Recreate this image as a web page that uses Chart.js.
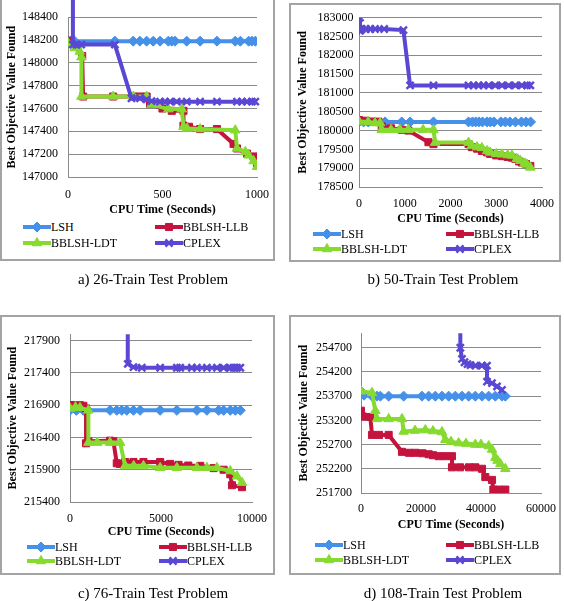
<!DOCTYPE html>
<html>
<head>
<meta charset="utf-8">
<title>Best objective value vs CPU time</title>
<script src="https://cdn.jsdelivr.net/npm/chart.js@4.4.1/dist/chart.umd.min.js"></script>
<style>
  body { margin: 0; width: 564px; height: 601px; position: relative; overflow: hidden; background: #fff;
         font-family: "Liberation Serif", "Times New Roman", serif; color: #000; }
  .box { position: absolute; border: 2px solid #a4a4a4; box-sizing: border-box; }
  .plot { position: absolute; }
  .legItem { position: absolute; height: 14px; display: flex; align-items: center; font-size: 12px; white-space: nowrap; }
  .caption { position: absolute; width: 260px; text-align: center; font-size: 15px; line-height: 18px; }
</style>
</head>
<body>
<script>
const seriesNames = ['LSH', 'BBLSH-LLB', 'BBLSH-LDT', 'CPLEX'];

// a) 26-train problem, [cpu seconds, best objective]
const a_lsh = [[0,148190],[15,148190],[35,148190],[248,148190],[345,148190],[380,148190],[416,148190],[451,148190],[487,148190],[531,148190],[549,148190],[566,148190],[628,148190],[699,148190],[788,148190],[885,148190],[912,148190],[956,148190],[973,148190],[991,148190]];
const a_llb = [[0,148195],[50,148150],[75,148060],[80,147705],[239,147705],[346,147705],[381,147705],[416,147705],[434,147640],[500,147600],[549,147580],[611,147580],[611,147450],[640,147440],[699,147420],[788,147420],[876,147290],[894,147250],[947,147205],[982,147180],[1000,147120]];
const a_ldt = [[0,148175],[35,148130],[62,148100],[71,148050],[71,147705],[239,147705],[346,147705],[416,147705],[442,147635],[531,147595],[602,147595],[611,147440],[630,147425],[699,147420],[885,147410],[894,147250],[938,147220],[956,147190],[982,147140],[1000,147090]];
const a_cplex = [[26,148600],[26,148160],[45,148160],[70,148160],[248,148160],[336,147690],[381,147690],[416,147680],[442,147665],[487,147660],[513,147660],[540,147660],[575,147660],[628,147660],[699,147660],[788,147660],[894,147660],[920,147660],[947,147660],[973,147660],[991,147660]];
const a_xTicks = [0, 500, 1000];
const a_yTicks = [147000, 147200, 147400, 147600, 147800, 148000, 148200, 148400];

// b) 50-train problem
const b_lsh = [[0,180230],[100,180230],[200,180230],[570,180230],[934,180230],[1117,180230],[1628,180230],[2394,180230],[2480,180230],[2550,180230],[2620,180230],[2700,180230],[2800,180230],[2870,180230],[2950,180230],[3100,180230],[3200,180230],[3300,180230],[3420,180230],[3550,180230],[3650,180230],[3750,180230]];
const b_llb = [[0,180280],[150,180260],[300,180240],[423,180237],[496,180110],[700,180060],[934,180020],[1080,180000],[1518,179690],[1628,179640],[2394,179640],[2467,179560],[2580,179520],[2686,179460],[2800,179420],[2868,179380],[3000,179340],[3124,179320],[3250,179300],[3343,179280],[3416,179250],[3500,179180],[3562,179150],[3650,179110],[3745,179060]];
const b_ldt = [[0,180240],[200,180230],[350,180200],[460,180200],[496,180020],[700,180020],[898,180020],[1080,180020],[1400,180020],[1628,180020],[1664,179680],[2394,179680],[2467,179600],[2580,179560],[2686,179540],[2800,179460],[2868,179420],[3000,179380],[3124,179370],[3250,179350],[3343,179340],[3450,179250],[3526,179200],[3620,179130],[3672,179100],[3745,179020]];
const b_cplex = [[22,183000],[22,182650],[60,182700],[150,182700],[250,182700],[350,182700],[550,182700],[971,182670],[1117,181200],[1628,181200],[2394,181200],[2504,181200],[2613,181200],[2723,181200],[2832,181200],[2978,181200],[3124,181200],[3270,181200],[3416,181200],[3562,181200],[3672,181200],[3745,181200]];
const b_xTicks = [0, 1000, 2000, 3000, 4000];
const b_yTicks = [178500, 179000, 179500, 180000, 180500, 181000, 181500, 182000, 182500, 183000];

// c) 76-train problem
const c_lsh = [[0,216820],[350,216820],[734,216820],[1009,216820],[2202,216820],[2569,216820],[2844,216820],[3119,216820],[3486,216820],[3853,216820],[4954,216820],[5872,216820],[6972,216820],[7523,216820],[8165,216820],[8440,216820],[8807,216820],[9083,216820],[9358,216820]];
const c_llb = [[0,216900],[150,216900],[550,216900],[734,216890],[881,216850],[881,216310],[1009,216340],[2202,216350],[2385,216340],[2570,216000],[2750,215990],[3028,216020],[3486,216020],[4036,216020],[4954,216020],[5500,215990],[5963,215975],[6500,215965],[7156,215960],[7890,215925],[8440,215900],[8807,215830],[8899,215660],[9450,215630]];
const c_ldt = [[0,216850],[300,216870],[550,216860],[1009,216820],[1009,216320],[1500,216320],[2202,216320],[2752,216320],[3028,215960],[3500,215960],[4036,215960],[4954,215930],[5872,215930],[6972,215930],[7523,215930],[8073,215930],[8807,215880],[9174,215800],[9450,215700]];
const c_cplex = [[3174,218100],[3174,217540],[3486,217490],[3945,217480],[4954,217480],[5872,217480],[6055,217480],[6697,217480],[6972,217480],[7523,217480],[8073,217480],[8440,217480],[8807,217480],[8991,217480],[9174,217480],[9358,217480]];
const c_xTicks = [0, 5000, 10000];
const c_yTicks = [215400, 215900, 216400, 216900, 217400, 217900];

// d) 108-train problem
const d_lsh = [[0,253800],[1000,253720],[3667,253700],[5333,253700],[6444,253700],[9222,253700],[14222,253700],[20333,253700],[22556,253700],[24778,253700],[27000,253700],[29222,253700],[31444,253700],[33667,253700],[35889,253700],[38111,253700],[40333,253700],[42556,253700],[44778,253700],[47000,253700],[48111,253700]];
const d_llb = [[0,253400],[600,253280],[3111,253270],[3667,252900],[6000,252900],[9222,252900],[13667,252550],[16000,252530],[18111,252530],[20500,252520],[22556,252500],[24000,252480],[25889,252460],[28000,252460],[30333,252460],[30333,252230],[33000,252230],[36000,252230],[38111,252230],[40333,252200],[41444,252030],[43667,251970],[44111,251770],[46000,251770],[48111,251770]];
const d_ldt = [[0,253800],[3667,253770],[4778,253400],[5333,253230],[9222,253230],[13667,253230],[14222,252970],[18000,252990],[21444,253000],[24000,252980],[27000,252960],[28111,252800],[30000,252760],[32556,252730],[35000,252720],[38111,252700],[40000,252700],[42556,252670],[43667,252600],[44778,252430],[45500,252370],[46444,252300],[48111,252200]];
const d_cplex = [[33111,255100],[33111,254700],[33667,254470],[34500,254400],[35500,254360],[36500,254340],[38111,254330],[40333,254330],[42000,254330],[42000,254000],[43667,253970],[45333,253900],[47000,253830]];
const d_xTicks = [0, 20000, 40000, 60000];
const d_yTicks = [251700, 252200, 252700, 253200, 253700, 254200, 254700];

const seriesColors = ['#4590e8', '#c4143e', '#86da30', '#5a48d4'];
const seriesPoints = ['rectRot', 'rect', 'triangle', 'crossRot'];
const seriesRadius = [5, 5, 5.5, 5];

// layout in page pixels: box [l, t, r, b], plot [l, t, r, b]
const panels = [
  { series: [a_lsh, a_llb, a_ldt, a_cplex], xTicks: a_xTicks, yTicks: a_yTicks, xMax: 1000, yMin: 147000, yMax: 148400,
    yTitle: 'Best Objective Value Found', caption: 'a) 26-Train Test Problem',
    box: [0, -2, 275, 261], plot: [68, 14, 257, 177], yTitleX: 12, xTitleY: 210, yPad: 10, xPad: 3,
    legX: [23, 155], legY: [227, 243], capX: 153, capY: 279, openTop: true },
  { series: [b_lsh, b_llb, b_ldt, b_cplex], xTicks: b_xTicks, yTicks: b_yTicks, xMax: 4000, yMin: 178500, yMax: 183000,
    yTitle: 'Best Objective Value Found', caption: 'b) 50-Train Test Problem',
    box: [289, 3, 561, 262], plot: [359, 14, 542, 187], yTitleX: 303, xTitleY: 219, yPad: 5.5, xPad: 2,
    legX: [313, 446], legY: [234, 249], capX: 443, capY: 279, openTop: false },
  { series: [c_lsh, c_llb, c_ldt, c_cplex], xTicks: c_xTicks, yTicks: c_yTicks, xMax: 10000, yMin: 215400, yMax: 218000,
    yTitle: 'Best Objective Value Found', caption: 'c) 76-Train Test Problem',
    box: [0, 315, 275, 575], plot: [70, 328, 252, 502], yTitleX: 13, xTitleY: 532, yPad: 10, xPad: 2,
    legX: [27, 159], legY: [547, 561], capX: 153, capY: 593, openTop: false },
  { series: [d_lsh, d_llb, d_ldt, d_cplex], xTicks: d_xTicks, yTicks: d_yTicks, xMax: 60000, yMin: 251700, yMax: 255000,
    yTitle: 'Best Objectie Value Found', caption: 'd) 108-Train Test Problem',
    box: [289, 315, 561, 575], plot: [361, 328, 541, 493], yTitleX: 304, xTitleY: 525, yPad: 9, xPad: 1,
    legX: [315, 446], legY: [545, 560], capX: 443, capY: 593, openTop: false }
];

const tickFont = { family: '"Liberation Serif", serif', size: 12 };
const titleFont = { family: '"Liberation Serif", serif', size: 12, weight: 'bold' };
const lh = 12 * 1.2;

function el(tag, cls, parent) {
  const e = document.createElement(tag);
  if (cls) e.className = cls;
  (parent || document.body).appendChild(e);
  return e;
}

panels.forEach(p => {
  const box = el('div', 'box');
  box.style.left = p.box[0] + 'px';
  box.style.top = p.box[1] + 'px';
  box.style.width = (p.box[2] - p.box[0]) + 'px';
  box.style.height = (p.box[3] - p.box[1]) + 'px';

  const cl = p.box[0] + 2, ct = Math.max(p.box[1] + 2, 0), cr = p.box[2] - 2;
  const axisBottom = p.xTitleY + lh / 2;
  const cb = Math.ceil(axisBottom) + 1;
  const yAxisLeft = p.yTitleX - lh / 2;

  const canvas = el('canvas', 'plot');
  canvas.width = cr - cl;
  canvas.height = cb - ct;
  canvas.style.left = cl + 'px';
  canvas.style.top = ct + 'px';

  const datasets = p.series.map((pts, i) => {
    const ds = {
      label: seriesNames[i],
      data: pts.map(([x, y]) => ({ x, y })),
      borderColor: seriesColors[i],
      backgroundColor: seriesColors[i],
      borderWidth: 4,
      pointStyle: seriesPoints[i],
      pointRadius: seriesRadius[i],
      pointBorderWidth: seriesPoints[i] === 'crossRot' ? 2.5 : 1,
      tension: 0,
      order: 3 - i
    };
    if (i === 3 && p.openTop) ds.clip = { left: 3, top: false, right: 3, bottom: 3 };
    return ds;
  });

  new Chart(canvas, {
    type: 'line',
    data: { datasets },
    options: {
      responsive: false,
      animation: false,
      devicePixelRatio: 1,
      layout: { padding: { left: yAxisLeft - cl, top: p.plot[1] - ct, right: cr - p.plot[2], bottom: cb - axisBottom } },
      plugins: { legend: { display: false }, tooltip: { enabled: false } },
      scales: {
        x: {
          type: 'linear', min: 0, max: p.xMax,
          grid: { display: false },
          border: { display: true, color: '#8a8a8a', width: 1 },
          ticks: { font: tickFont, color: '#000', padding: p.xPad, maxRotation: 0, callback: v => String(v) },
          afterBuildTicks: s => { s.ticks = p.xTicks.map(v => ({ value: v })); },
          afterFit: s => { s.height = axisBottom - p.plot[3]; },
          title: { display: true, text: 'CPU Time (Seconds)', font: titleFont, color: '#000', padding: 0 }
        },
        y: {
          type: 'linear', min: p.yMin, max: p.yMax,
          grid: { color: '#8a8a8a', lineWidth: 1, drawTicks: false },
          border: { display: true, color: '#8a8a8a', width: 1 },
          ticks: { font: tickFont, color: '#000', padding: p.yPad, callback: v => String(v) },
          afterBuildTicks: s => { s.ticks = p.yTicks.map(v => ({ value: v })); },
          afterFit: s => { s.width = p.plot[0] - yAxisLeft; },
          title: { display: true, text: p.yTitle, font: titleFont, color: '#000', padding: 0 }
        }
      }
    }
  });

  seriesNames.forEach((name, i) => {
    const item = el('div', 'legItem');
    item.style.left = p.legX[i % 2] + 'px';
    item.style.top = (p.legY[Math.floor(i / 2)] - 7) + 'px';
    const sym = el('canvas', null, item);
    sym.width = 28; sym.height = 14;
    const g = sym.getContext('2d');
    g.strokeStyle = seriesColors[i];
    g.fillStyle = seriesColors[i];
    g.lineWidth = 4;
    g.beginPath(); g.moveTo(0, 7); g.lineTo(28, 7); g.stroke();
    g.lineWidth = seriesPoints[i] === 'crossRot' ? 2.5 : 1;
    Chart.helpers.drawPoint(g, { pointStyle: seriesPoints[i], radius: seriesRadius[i], rotation: 0, borderWidth: g.lineWidth }, 14, 7);
    const txt = el('span', null, item);
    txt.textContent = name;
  });

  const cap = el('div', 'caption');
  cap.style.left = (p.capX - 130) + 'px';
  cap.style.top = (p.capY - 9) + 'px';
  cap.textContent = p.caption;
});
</script>
</body>
</html>
